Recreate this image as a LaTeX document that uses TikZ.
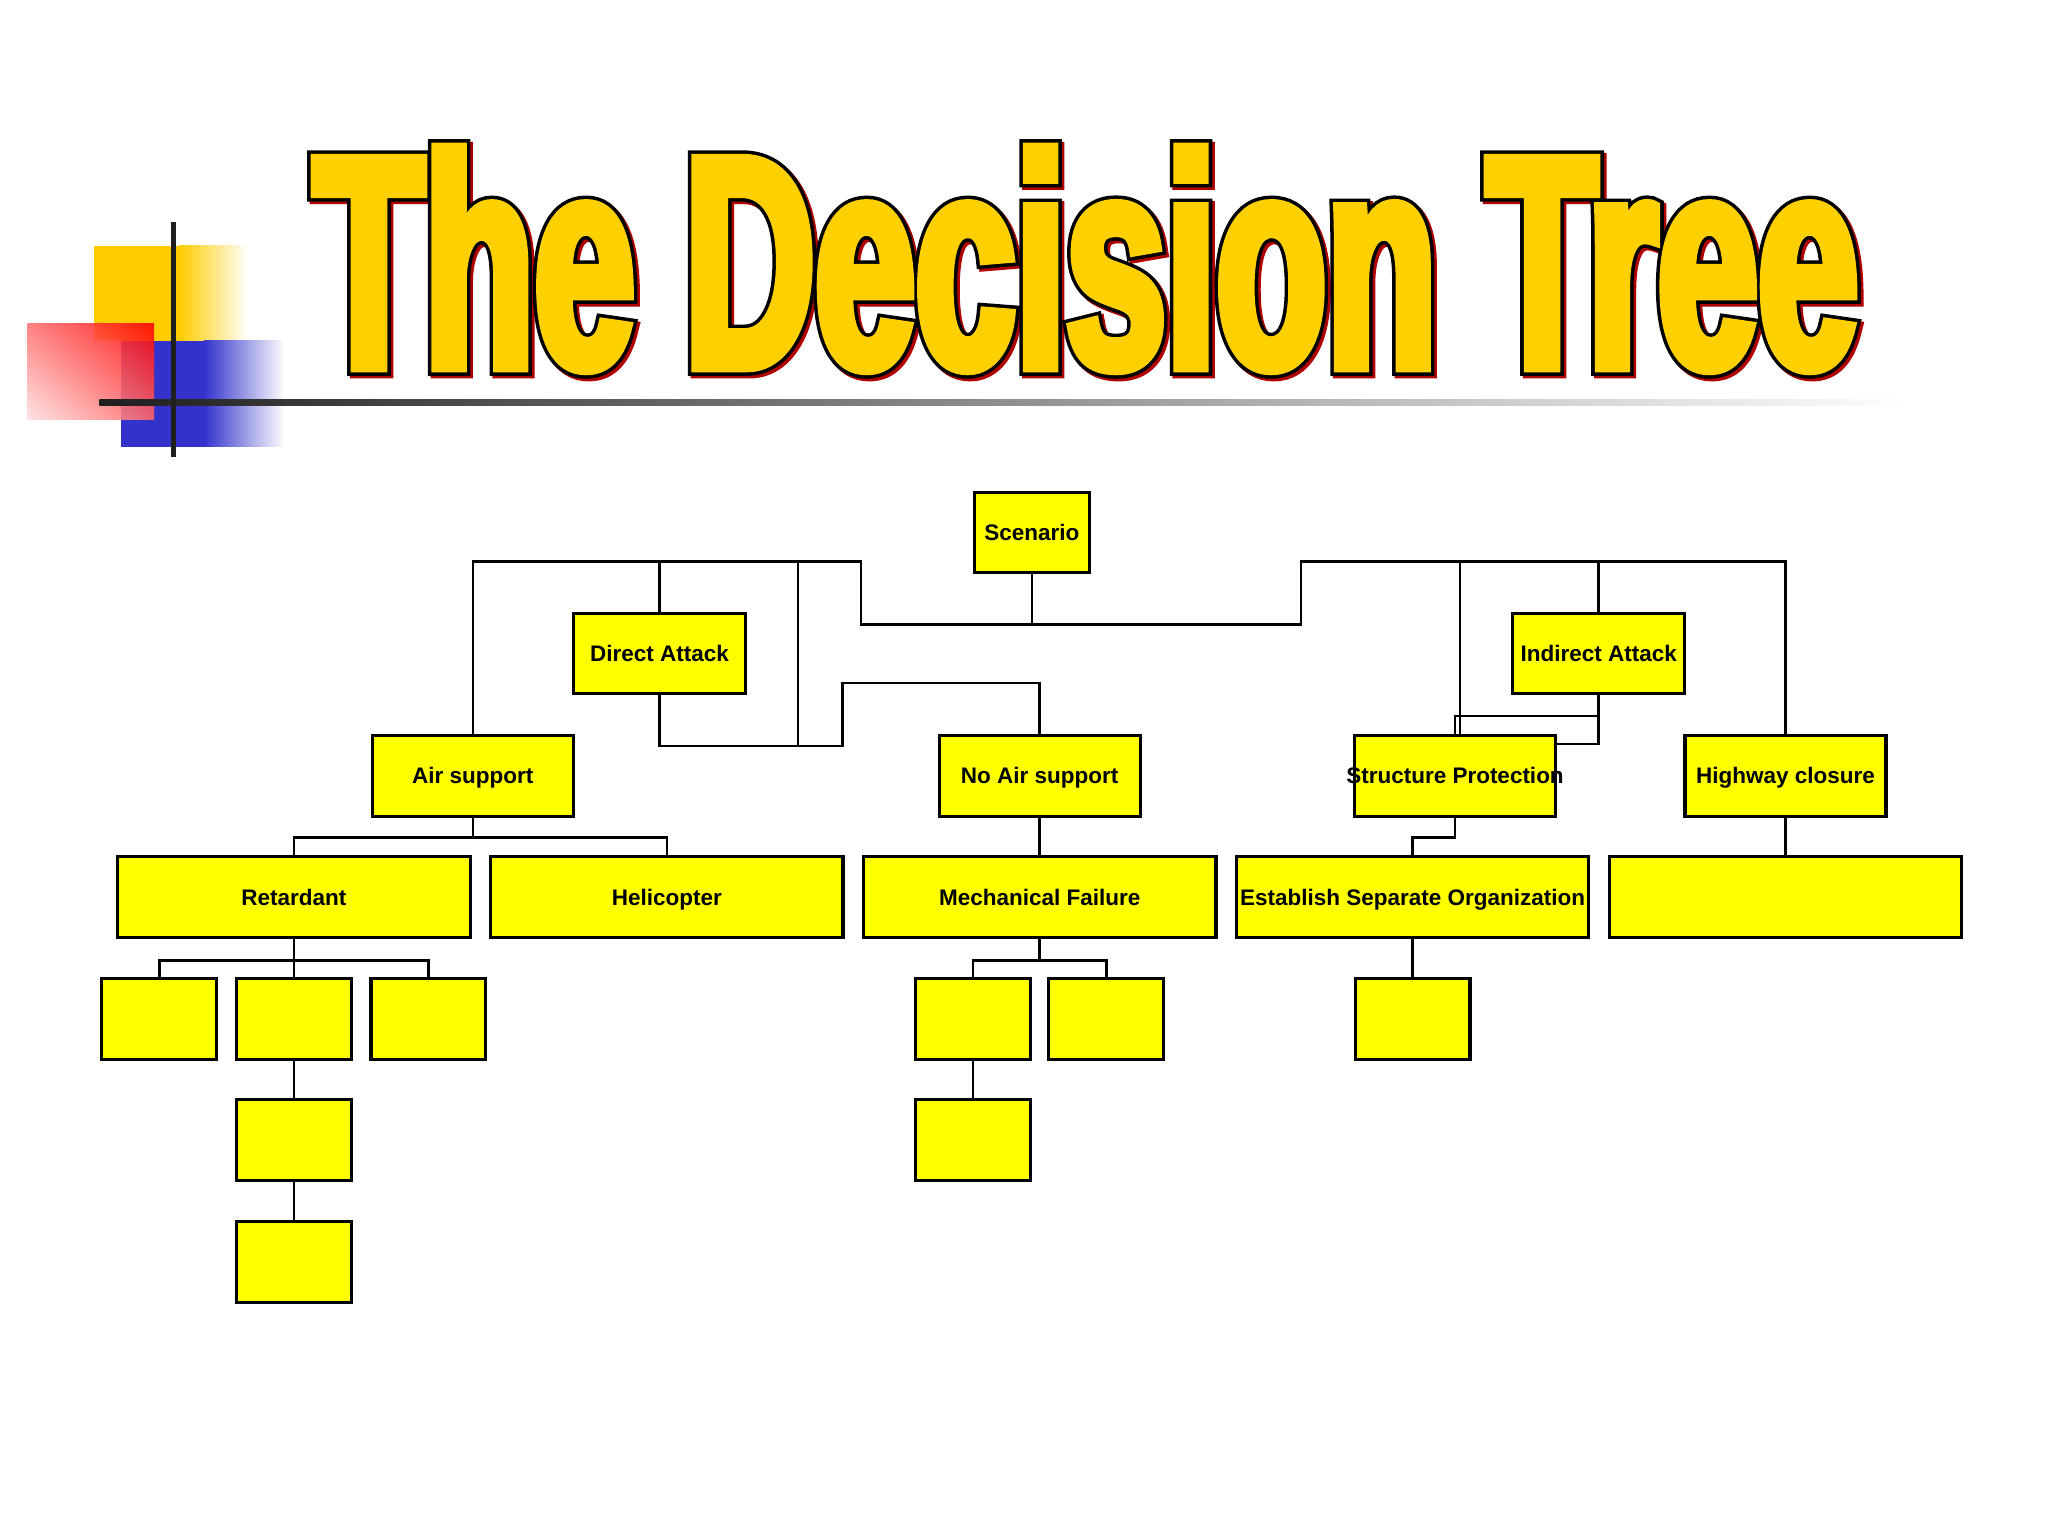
\documentclass[tikz,border=0pt]{standalone}
\usepackage{fontspec}
\setmainfont{Liberation Sans}
\newfontfamily\titlefont{Liberation Sans}[FakeStretch=0.597]
\usetikzlibrary{positioning,calc,shadings}

\definecolor{boxyellow}{RGB}{255,255,0}
\definecolor{titleyellow}{RGB}{255,208,0}
\definecolor{titlered}{RGB}{176,0,0}
\definecolor{logoyellow}{RGB}{255,204,0}
\definecolor{logoblue}{RGB}{51,51,204}
\definecolor{logored}{RGB}{255,0,0}

% glyphs filled and stroked with the text colour
\newcommand\strokedtext[2]{\special{pdf:literal direct 2 Tr #1 w 0 j 3 M}#2\special{pdf:literal direct 0 Tr}}

\begin{document}
\begin{tikzpicture}[x=0.013061cm, y=-0.013061cm,
        box/.style={draw, fill=boxyellow, line width=0.9pt, inner sep=0pt, minimum height=0.81cm,
                text height=4.6pt, text depth=0pt, font=\bfseries\fontsize{6.4}{7}\selectfont},
        leafbox/.style={box, minimum width=1.149cm},
        attackbox/.style={box, minimum width=1.724cm},
        midbox/.style={box, minimum width=2.011cm},
        widebox/.style={box, minimum width=3.526cm},
        link/.style={line width=0.7pt},
        heading/.style={font=\titlefont\bfseries\fontsize{86}{88}\selectfont, anchor=base, inner sep=0pt}]
        \useasboundingbox[fill=white] (0,0) rectangle (1568,1176);

        % logo
        \fill[logoyellow] (72,188) rectangle (138,261);
        \shade[left color=logoyellow, right color=white] (137,188) rectangle (190,261);
        \fill[logoblue] (93,261) rectangle (157,342);
        \shade[left color=logoblue, right color=white] (156,261) rectangle (218,342);
        \shade[upper right=logored, upper left=red!55, lower right=red!60, lower left=red!12, opacity=0.88]
                (21,248) rectangle (118,321);
        \shade[left color=black!88, middle color=black!47, right color=white] (76,306) rectangle (1462,310.5);
        \draw[black!88, line width=1.4pt] (133,170) -- (133,350);

        % title
        \node[heading, text=titlered] at (833.5,283) {\strokedtext{5.0}{The Decision Tree}};
        \node[heading, text=black] at (831.5,281) {\strokedtext{5.0}{The Decision Tree}};
        \node[heading, text=titleyellow] (title) at (831.5,281) {\strokedtext{3.0}{The Decision Tree}};

        % boxes
        \node[leafbox, minimum height=0.797cm] (scen) at (790,407.5) {Scenario};
        \node[attackbox, minimum height=0.797cm] (dir) at (505,500.5) {Direct Attack};
        \node[attackbox, minimum height=0.797cm] (ind) at (1224,500.5) {Indirect Attack};
        \node[midbox] (air) at (362,594) {Air support};
        \node[midbox] (noair) at (796,594) {No Air support};
        \node[midbox] (sp) at (1114,594) {\makebox[0pt]{Structure Protection}};
        \node[midbox] (hwy) at (1367,594) {Highway closure};
        \node[widebox] (ret) at (225,687) {Retardant};
        \node[widebox] (heli) at (510.5,687) {Helicopter};
        \node[widebox] (mech) at (796,687) {Mechanical Failure};
        \node[widebox] (eso) at (1081.5,687) {Establish Separate Organization};
        \node[widebox] (hwyend) at (1367,687) {};
        \node[leafbox] (r1) at (122,780) {};
        \node[leafbox] (r2) at (225,780) {};
        \node[leafbox] (r3) at (328,780) {};
        \node[leafbox] (r4) at (225,873) {};
        \node[leafbox] (r5) at (225,966) {};
        \node[leafbox] (m1) at (745,780) {};
        \node[leafbox] (m2) at (847,780) {};
        \node[leafbox] (m3) at (745,873) {};
        \node[leafbox] (e1) at (1081.5,780) {};

        \coordinate (topbus) at (0,430);
        \coordinate (tapL) at (611,430);
        \coordinate (tapR) at (1118,430);

        \begin{scope}[every path/.style={link}]
                \draw (scen.south) |- (659,478) -- (659,430) -| (air.north);
                \draw (scen.south) |- (996,478) -- (996,430) -| (hwy.north);
                \draw (dir.north) -- (dir.north |- topbus);
                \draw (tapL) -- ++(0,141);
                \draw (dir.south) |- (645,571) -- (645,523) -| (noair.north);
                \draw (ind.north) -- (ind.north |- topbus);
                \draw (tapR) -- (tapR |- sp.north);
                \draw (ind.south) |- ($(sp.north east)+(0,8)$);
                \draw (ind.south) -- ++(0,16) -| (sp.north);
                \draw (air.south) -- ++(0,15) coordinate (airbus);
                \draw (ret.north) |- (airbus) -| (heli.north);
                \draw (noair) -- (mech);
                \draw (sp.south) -- ++(0,15) -| (eso.north);
                \draw (hwy) -- (hwyend);
                \draw (ret.south) -- ++(0,16) coordinate (retbus);
                \draw (r1.north) |- (retbus) -| (r3.north);
                \draw (retbus) -- (r2.north);
                \draw (r2) -- (r4);
                \draw (r4) -- (r5);
                \draw (mech.south) -- ++(0,16) coordinate (mechbus);
                \draw (m1.north) |- (mechbus) -| (m2.north);
                \draw (m1) -- (m3);
                \draw (eso) -- (e1);
        \end{scope}
\end{tikzpicture}
\end{document}
